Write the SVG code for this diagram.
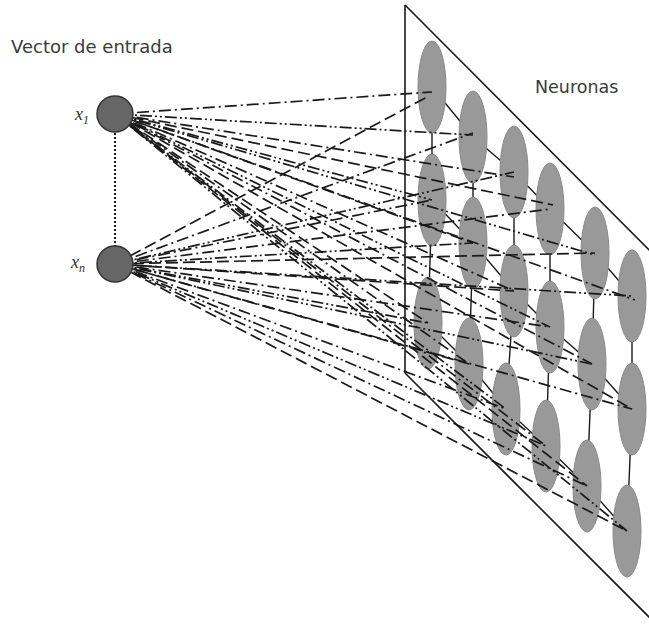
<svg xmlns="http://www.w3.org/2000/svg" width="649" height="628" viewBox="0 0 649 628">
<style>
.plane{stroke:#1a1a1a;stroke-width:1.6;fill:none}
.grid{stroke:#1a1a1a;stroke-width:1.4;fill:none}
.neu{fill:#999;stroke:#8a8a8a;stroke-width:1}
.inp{fill:#666;stroke:#333;stroke-width:1.5}
.lbl{font-family:"DejaVu Sans",sans-serif;fill:#3a3a3a}
.var{font-family:"Liberation Serif",serif;font-style:italic;fill:#333}
#connectors line{stroke:#1a1a1a;stroke-width:1.7;fill:none}
#connectors .a{stroke-dasharray:12 4 2 4}
#connectors .b{stroke-dasharray:12 3 2 3 2 3}
#connectors .c{stroke-dasharray:12 5}
</style>
<rect width="649" height="628" fill="#fff"/>
<g id="plane">
<path class="plane" d="M405,5 L405,373 M405,5 L652,253 M405,373 L652,620"/>
</g>
<g id="grid">
<path class="grid" d="M432,87 L473,137 L514,172 L550,209 L595,253 L632,296 M432,200 L473,243 L514,291 L550,327 L592,364 L632,409 M428,323 L469,364 L506,409 L546,446 L587,486 L627,531 M432,87 L432,200 L428,323 M473,137 L473,243 L469,364 M514,172 L514,291 L506,409 M550,209 L550,327 L546,446 M595,253 L592,364 L587,486 M632,296 L632,409 L627,531"/>
</g>
<g id="neurons">
<g id="n11"><ellipse class="neu" cx="432" cy="87" rx="14" ry="46"/></g>
<g id="n12"><ellipse class="neu" cx="473" cy="137" rx="14" ry="46"/></g>
<g id="n13"><ellipse class="neu" cx="514" cy="172" rx="14" ry="46"/></g>
<g id="n14"><ellipse class="neu" cx="550" cy="209" rx="14" ry="46"/></g>
<g id="n15"><ellipse class="neu" cx="595" cy="253" rx="14" ry="46"/></g>
<g id="n16"><ellipse class="neu" cx="632" cy="296" rx="14" ry="46"/></g>
<g id="n21"><ellipse class="neu" cx="432" cy="200" rx="14" ry="46"/></g>
<g id="n22"><ellipse class="neu" cx="473" cy="243" rx="14" ry="46"/></g>
<g id="n23"><ellipse class="neu" cx="514" cy="291" rx="14" ry="46"/></g>
<g id="n24"><ellipse class="neu" cx="550" cy="327" rx="14" ry="46"/></g>
<g id="n25"><ellipse class="neu" cx="592" cy="364" rx="14" ry="46"/></g>
<g id="n26"><ellipse class="neu" cx="632" cy="409" rx="14" ry="46"/></g>
<g id="n31"><ellipse class="neu" cx="428" cy="323" rx="14" ry="46"/></g>
<g id="n32"><ellipse class="neu" cx="469" cy="364" rx="14" ry="46"/></g>
<g id="n33"><ellipse class="neu" cx="506" cy="409" rx="14" ry="46"/></g>
<g id="n34"><ellipse class="neu" cx="546" cy="446" rx="14" ry="46"/></g>
<g id="n35"><ellipse class="neu" cx="587" cy="486" rx="14" ry="46"/></g>
<g id="n36"><ellipse class="neu" cx="627" cy="531" rx="14" ry="46"/></g>
</g>
<g id="connectors">
<line x1="115" y1="114" x2="432" y2="92" class="a"/>
<line x1="115" y1="114" x2="473" y2="135" class="b"/>
<line x1="115" y1="114" x2="514" y2="177" class="a"/>
<line x1="115" y1="114" x2="553" y2="205" class="c"/>
<line x1="115" y1="114" x2="595" y2="255" class="b"/>
<line x1="115" y1="114" x2="635" y2="300" class="a"/>
<line x1="115" y1="114" x2="432" y2="200" class="b"/>
<line x1="115" y1="114" x2="473" y2="243" class="c"/>
<line x1="115" y1="114" x2="514" y2="291" class="a"/>
<line x1="115" y1="114" x2="550" y2="327" class="b"/>
<line x1="115" y1="114" x2="592" y2="364" class="a"/>
<line x1="115" y1="114" x2="632" y2="409" class="c"/>
<line x1="115" y1="114" x2="428" y2="323" class="c"/>
<line x1="115" y1="114" x2="469" y2="364" class="a"/>
<line x1="115" y1="114" x2="506" y2="409" class="b"/>
<line x1="115" y1="114" x2="546" y2="446" class="a"/>
<line x1="115" y1="114" x2="587" y2="486" class="c"/>
<line x1="115" y1="114" x2="627" y2="531" class="b"/>
<line x1="115" y1="264" x2="427" y2="97" class="c"/>
<line x1="115" y1="264" x2="473" y2="133" class="a"/>
<line x1="115" y1="264" x2="514" y2="172" class="b"/>
<line x1="115" y1="264" x2="550" y2="209" class="a"/>
<line x1="115" y1="264" x2="595" y2="253" class="c"/>
<line x1="115" y1="264" x2="632" y2="296" class="b"/>
<line x1="115" y1="264" x2="432" y2="200" class="a"/>
<line x1="115" y1="264" x2="473" y2="243" class="b"/>
<line x1="115" y1="264" x2="514" y2="291" class="c"/>
<line x1="115" y1="264" x2="550" y2="327" class="a"/>
<line x1="115" y1="264" x2="592" y2="364" class="b"/>
<line x1="115" y1="264" x2="632" y2="409" class="a"/>
<line x1="115" y1="264" x2="428" y2="323" class="b"/>
<line x1="115" y1="264" x2="469" y2="364" class="c"/>
<line x1="115" y1="264" x2="506" y2="409" class="a"/>
<line x1="115" y1="264" x2="546" y2="446" class="b"/>
<line x1="115" y1="264" x2="587" y2="486" class="a"/>
<line x1="115" y1="264" x2="627" y2="531" class="c"/>
<line x1="115" y1="133" x2="115" y2="246" style="stroke-dasharray:2 2;stroke-width:2"/>
</g>
<g id="x1">
<circle class="inp" cx="115" cy="114" r="18"/>
<text class="var" x="75" y="120" font-size="18">x<tspan font-size="12" dy="4">1</tspan></text>
</g>
<g id="xn">
<circle class="inp" cx="115" cy="264" r="18"/>
<text class="var" x="71" y="268" font-size="18">x<tspan font-size="12" dy="4">n</tspan></text>
</g>
<g id="labels">
<text class="lbl" x="11" y="53" font-size="18">Vector de entrada</text>
<text class="lbl" x="535" y="93" font-size="17.5">Neuronas</text>
</g>
</svg>
